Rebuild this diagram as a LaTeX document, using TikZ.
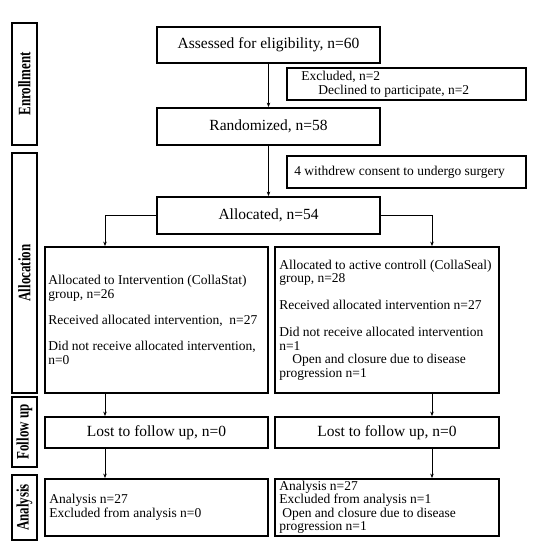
\documentclass[tikz,border=0pt]{standalone}
\usepackage{fontspec}
\usepackage{graphicx}
\setmainfont{Liberation Serif}
\usetikzlibrary{arrows.meta}
\begin{document}
\begin{tikzpicture}[x=1pt,y=-1pt,
  box/.style={draw, line width=1.8pt, inner sep=0pt},
  mainbox/.style={box, font=\fontsize{15.5}{18}\selectfont},
  txt/.style={anchor=west, inner sep=0pt, align=left, font=\fontsize{13.5}{13.5}\selectfont},
  side/.style={box, rotate=90, minimum height=25pt, font=\fontsize{17.5}{20}\selectfont\bfseries},
  arr/.style={line width=0.8pt, -{Stealth[length=4.5pt,width=3.5pt]}}]
\useasboundingbox (0,0) rectangle (536,550);

% side labels
\node[side, minimum width=122pt] (senr) at (24.5,84) {\scalebox{0.74}[1]{Enrollment}};
\node[side, minimum width=240pt] (salloc) at (24.5,273) {\scalebox{0.74}[1]{Allocation}};
\node[side, minimum width=70pt] (sfol) at (24.5,432) {\scalebox{0.74}[1]{Follow up}};
\node[side, minimum width=65pt] (sana) at (24.5,507.5) {\scalebox{0.74}[1]{Analysis}};

% main column
\node[mainbox, minimum width=223pt, minimum height=36pt] (assess) at (268.5,45) {Assessed for eligibility, n=60};
\node[box, minimum width=239pt, minimum height=32pt] (excl) at (406.5,84) {};
\node[txt] (exclt) at ([xshift=15pt]excl.west) {Excluded, n=2\\\hspace*{17pt}Declined to participate, n=2};
\node[mainbox, minimum width=223pt, minimum height=37pt] (rand) at (268.5,126.5) {Randomized, n=58};
\node[box, minimum width=239pt, minimum height=32pt] (withd) at (406.5,172) {};
\node[txt] (withdt) at ([xshift=8pt]withd.west) {4 withdrew consent to undergo surgery};
\node[mainbox, minimum width=223pt, minimum height=37pt] (alloc) at (268.5,215.5) {Allocated, n=54};

% groups
\node[box, minimum width=223pt, minimum height=146pt] (grpL) at (156.5,320) {};
\node[txt] (grpLt) at ([xshift=4pt]grpL.west) {Allocated to Intervention (CollaStat)\\group, n=26\\[12.5pt]Received allocated intervention,~~n=27\\[13pt]Did not receive allocated intervention,\\n=0};
\node[box, minimum width=224pt, minimum height=146pt] (grpR) at (387,320) {};
\node[txt] (grpRt) at ([xshift=5pt]grpR.west) {Allocated to active controll (CollaSeal)\\group, n=28\\[13.5pt]Received allocated intervention n=27\\[13.5pt]Did not receive allocated intervention\\n=1\\\hspace*{13pt}Open and closure due to disease\\progression n=1};

% follow up
\node[mainbox, minimum width=223pt, minimum height=31pt] (lostL) at (156.5,432.5) {Lost to follow up, n=0};
\node[mainbox, minimum width=224pt, minimum height=31pt] (lostR) at (387,432.5) {Lost to follow up, n=0};

% analysis
\node[box, minimum width=223pt, minimum height=57pt] (anaL) at (156.5,507.5) {};
\node[txt] (anaLt) at ([xshift=5pt]anaL.west) {Analysis n=27\\Excluded from analysis n=0};
\node[box, minimum width=224pt, minimum height=57pt] (anaR) at (387,507.5) {};
\node[txt] (anaRt) at ([xshift=5pt]anaR.west) {Analysis n=27\\Excluded from analysis n=1\\\hspace*{3pt}Open and closure due to disease\\progression n=1};

% connectors
\coordinate (cl) at (105,215.5);
\coordinate (cr) at (432,215.5);
\draw[arr] (assess.south) -- (rand.north);
\draw[arr] (rand.south) -- (alloc.north);
\draw[arr] (alloc.west) -| (cl |- grpL.north);
\draw[arr] (alloc.east) -| (cr |- grpR.north);
\draw[arr] (cl |- grpL.south) -- (cl |- lostL.north);
\draw[arr] (cl |- lostL.south) -- (cl |- anaL.north);
\draw[arr] (cr |- grpR.south) -- (cr |- lostR.north);
\draw[arr] (cr |- lostR.south) -- (cr |- anaR.north);
\end{tikzpicture}
\end{document}
